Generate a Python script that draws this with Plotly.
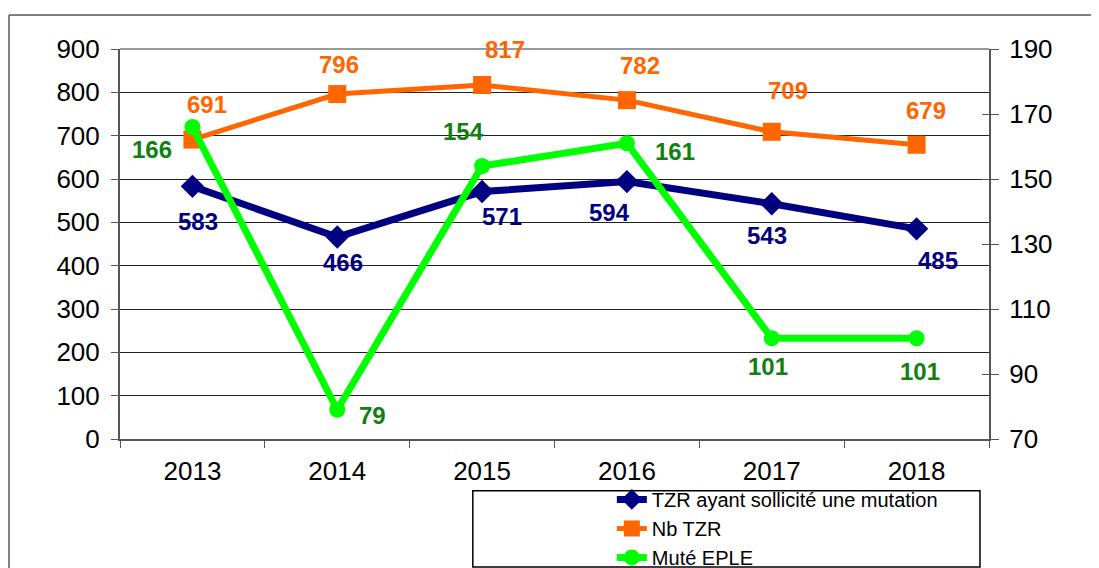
import plotly.graph_objects as go

years = ["2013", "2014", "2015", "2016", "2017", "2018"]
tzr_sollicite = [583, 466, 571, 594, 543, 485]
nb_tzr = [691, 796, 817, 782, 709, 679]
mute_eple = [166, 79, 154, 161, 101, 101]

names = ["TZR ayant sollicité une mutation", "Nb TZR", "Muté EPLE"]

NAVY = "#000080"
ORANGE = "#FF6600"
GREEN = "#00FF00"
DKGREEN = "#108010"

# label offsets in pixels (style only)
off_navy = [(6, -35), (6, -25), (20, -25), (-17, -31), (-5, -32), (21, -32)]
off_orange = [(15, 35), (2, 30), (23, 35), (13, 35), (16, 41), (9, 34)]
off_green = [(-40, -22), (35, -6), (-19, 35), (48, -8), (-4, -28), (3, -33)]

fig = go.Figure()
fig.add_trace(go.Scatter(x=years, y=tzr_sollicite, name=names[0], mode="lines+markers",
                         line=dict(color=NAVY, width=7),
                         marker=dict(symbol="diamond", size=18, color=NAVY)))
fig.add_trace(go.Scatter(x=years, y=nb_tzr, name=names[1], mode="lines+markers",
                         line=dict(color=ORANGE, width=5),
                         marker=dict(symbol="square", size=18, color=ORANGE)))
fig.add_trace(go.Scatter(x=years, y=mute_eple, name=names[2], mode="lines+markers",
                         line=dict(color=GREEN, width=7),
                         marker=dict(symbol="circle", size=16, color=GREEN),
                         yaxis="y2"))
fig.add_trace(go.Scatter(x=years, y=[None] * len(years), yaxis="y3", showlegend=False,
                         hoverinfo="skip", mode="lines"))

LBL = "Liberation Sans, Arial"
ann = []
for i, y in enumerate(years):
    ann.append(dict(x=i, y=tzr_sollicite[i], xref="x", yref="y", text=str(tzr_sollicite[i]),
                    showarrow=False, xshift=off_navy[i][0], yshift=off_navy[i][1],
                    font=dict(color=NAVY, size=24, family=LBL, weight="bold")))
    ann.append(dict(x=i, y=nb_tzr[i], xref="x", yref="y", text=str(nb_tzr[i]),
                    showarrow=False, xshift=off_orange[i][0], yshift=off_orange[i][1],
                    font=dict(color=ORANGE, size=24, family=LBL, weight="bold")))
    ann.append(dict(x=i, y=mute_eple[i], xref="x", yref="y2", text=str(mute_eple[i]),
                    showarrow=False, xshift=off_green[i][0], yshift=off_green[i][1],
                    font=dict(color=DKGREEN, size=24, family=LBL, weight="bold")))

AX = "#555555"
fig.update_layout(
    width=1091, height=560,
    margin=dict(l=112, r=110, t=41, b=129, autoexpand=False),
    paper_bgcolor="white", plot_bgcolor="white",
    font=dict(family=LBL, size=26, color="black"),
    showlegend=True,
    legend=dict(x=0.566, xanchor="left", y=-0.105, yanchor="top",
                bgcolor="rgba(0,0,0,0)", borderwidth=0,
                font=dict(size=20, color="black"), tracegroupgap=0),
    xaxis=dict(type="category", range=[-0.5, 5.5], showline=True, linecolor=AX, linewidth=2,
               ticks="outside", ticklen=7, tickcolor=AX, tickwidth=1, tickson="boundaries",
               showgrid=False, ticklabelstandoff=8),
    yaxis=dict(range=[0, 900], tickvals=list(range(0, 901, 100)), showline=True, linecolor=AX,
               linewidth=2, ticks="outside", ticklen=7, tickcolor=AX, showgrid=True,
               gridcolor="#222222", gridwidth=1, zeroline=False, ticklabelstandoff=6),
    yaxis2=dict(range=[70, 190], tickvals=list(range(70, 191, 20)), overlaying="y", side="right",
                showline=True, linecolor=AX, linewidth=2, ticks="outside", ticklen=8,
                tickcolor=AX, showgrid=False, zeroline=False, ticklabelstandoff=5),
    yaxis3=dict(range=[70, 190], tickvals=list(range(70, 191, 20)), overlaying="y", side="right",
                showline=False, ticks="inside", ticklen=7, tickcolor=AX, showticklabels=False,
                showgrid=False, zeroline=False),
    annotations=ann,
    shapes=[
        dict(type="line", xref="paper", yref="paper", x0=0, x1=1, y0=1, y1=1,
             line=dict(color="#999999", width=2)),
        dict(type="line", xref="paper", yref="paper", x0=-0.1277, x1=1.3, y0=1.087, y1=1.087,
             line=dict(color=AX, width=1.5)),
        dict(type="line", xref="paper", yref="paper", x0=-0.1277, x1=-0.1277, y0=-0.5, y1=1.087,
             line=dict(color=AX, width=1.5)),
        dict(type="rect", xref="paper", yref="paper", x0=0.406, x1=0.9896, y0=-0.328, y1=-0.133,
             line=dict(color="black", width=1.5), fillcolor="rgba(0,0,0,0)"),
    ],
)

fig.write_html("out.html")
